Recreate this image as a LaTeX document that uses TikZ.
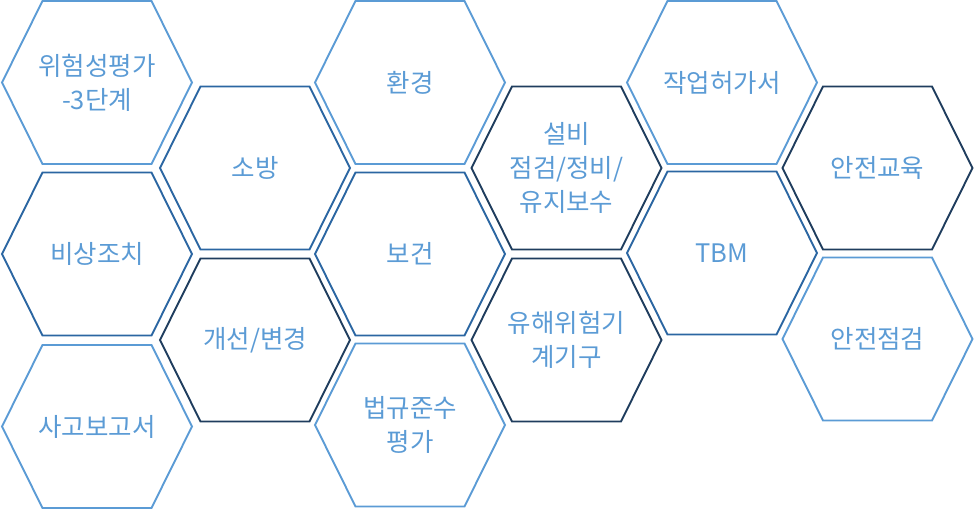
\documentclass[tikz,border=0pt]{standalone}
\usepackage{fontspec}
\setmainfont{Noto Sans CJK KR}
\definecolor{hlight}{HTML}{5B9BD5}
\definecolor{hmid}{HTML}{2B66A2}
\definecolor{hdark}{HTML}{1F3D5E}
\definecolor{htext}{HTML}{5B9BD5}
\tikzset{
  hexline/.style={line width=1.9pt, line join=miter},
  hextext/.style={text=htext, align=center, font=\fontsize{25.5}{34}\selectfont, inner sep=0pt}
}
\newcommand{\hexcell}[5]{%
  \draw[hexline,#4] (#2-95,#3) -- ++(40.5,-81.5) -- ++(109,0) -- ++(40.5,81.5) -- ++(-40.5,81.5) -- ++(-109,0) -- cycle;
  \node[hextext] (#1) at (#2,#3) {#5};}
\begin{document}
\begin{tikzpicture}[x=1pt,y=-1pt]
\useasboundingbox (0,0) rectangle (974,510);
\hexcell{risk}{97}{82.5}{hlight}{위험성평가\\-3단계}
\hexcell{emerg}{97}{254}{hmid}{비상조치}
\hexcell{report}{97}{426.5}{hlight}{사고보고서}
\hexcell{fire}{255}{168}{hmid}{소방}
\hexcell{change}{255}{340}{hdark}{개선/변경}
\hexcell{env}{410}{82.5}{hlight}{환경}
\hexcell{health}{410}{254}{hmid}{보건}
\hexcell{law}{410}{425}{hlight}{법규준수\\평가}
\hexcell{equip}{566.5}{168}{hdark}{설비\\점검/정비/\\유지보수}
\hexcell{machine}{566.5}{340}{hdark}{유해위험기\\계기구}
\hexcell{permit}{722}{82.5}{hlight}{작업허가서}
\hexcell{tbm}{722}{253}{hmid}{TBM}
\hexcell{edu}{877.5}{168}{hdark}{안전교육}
\hexcell{check}{877.5}{339}{hlight}{안전점검}
\end{tikzpicture}
\end{document}
